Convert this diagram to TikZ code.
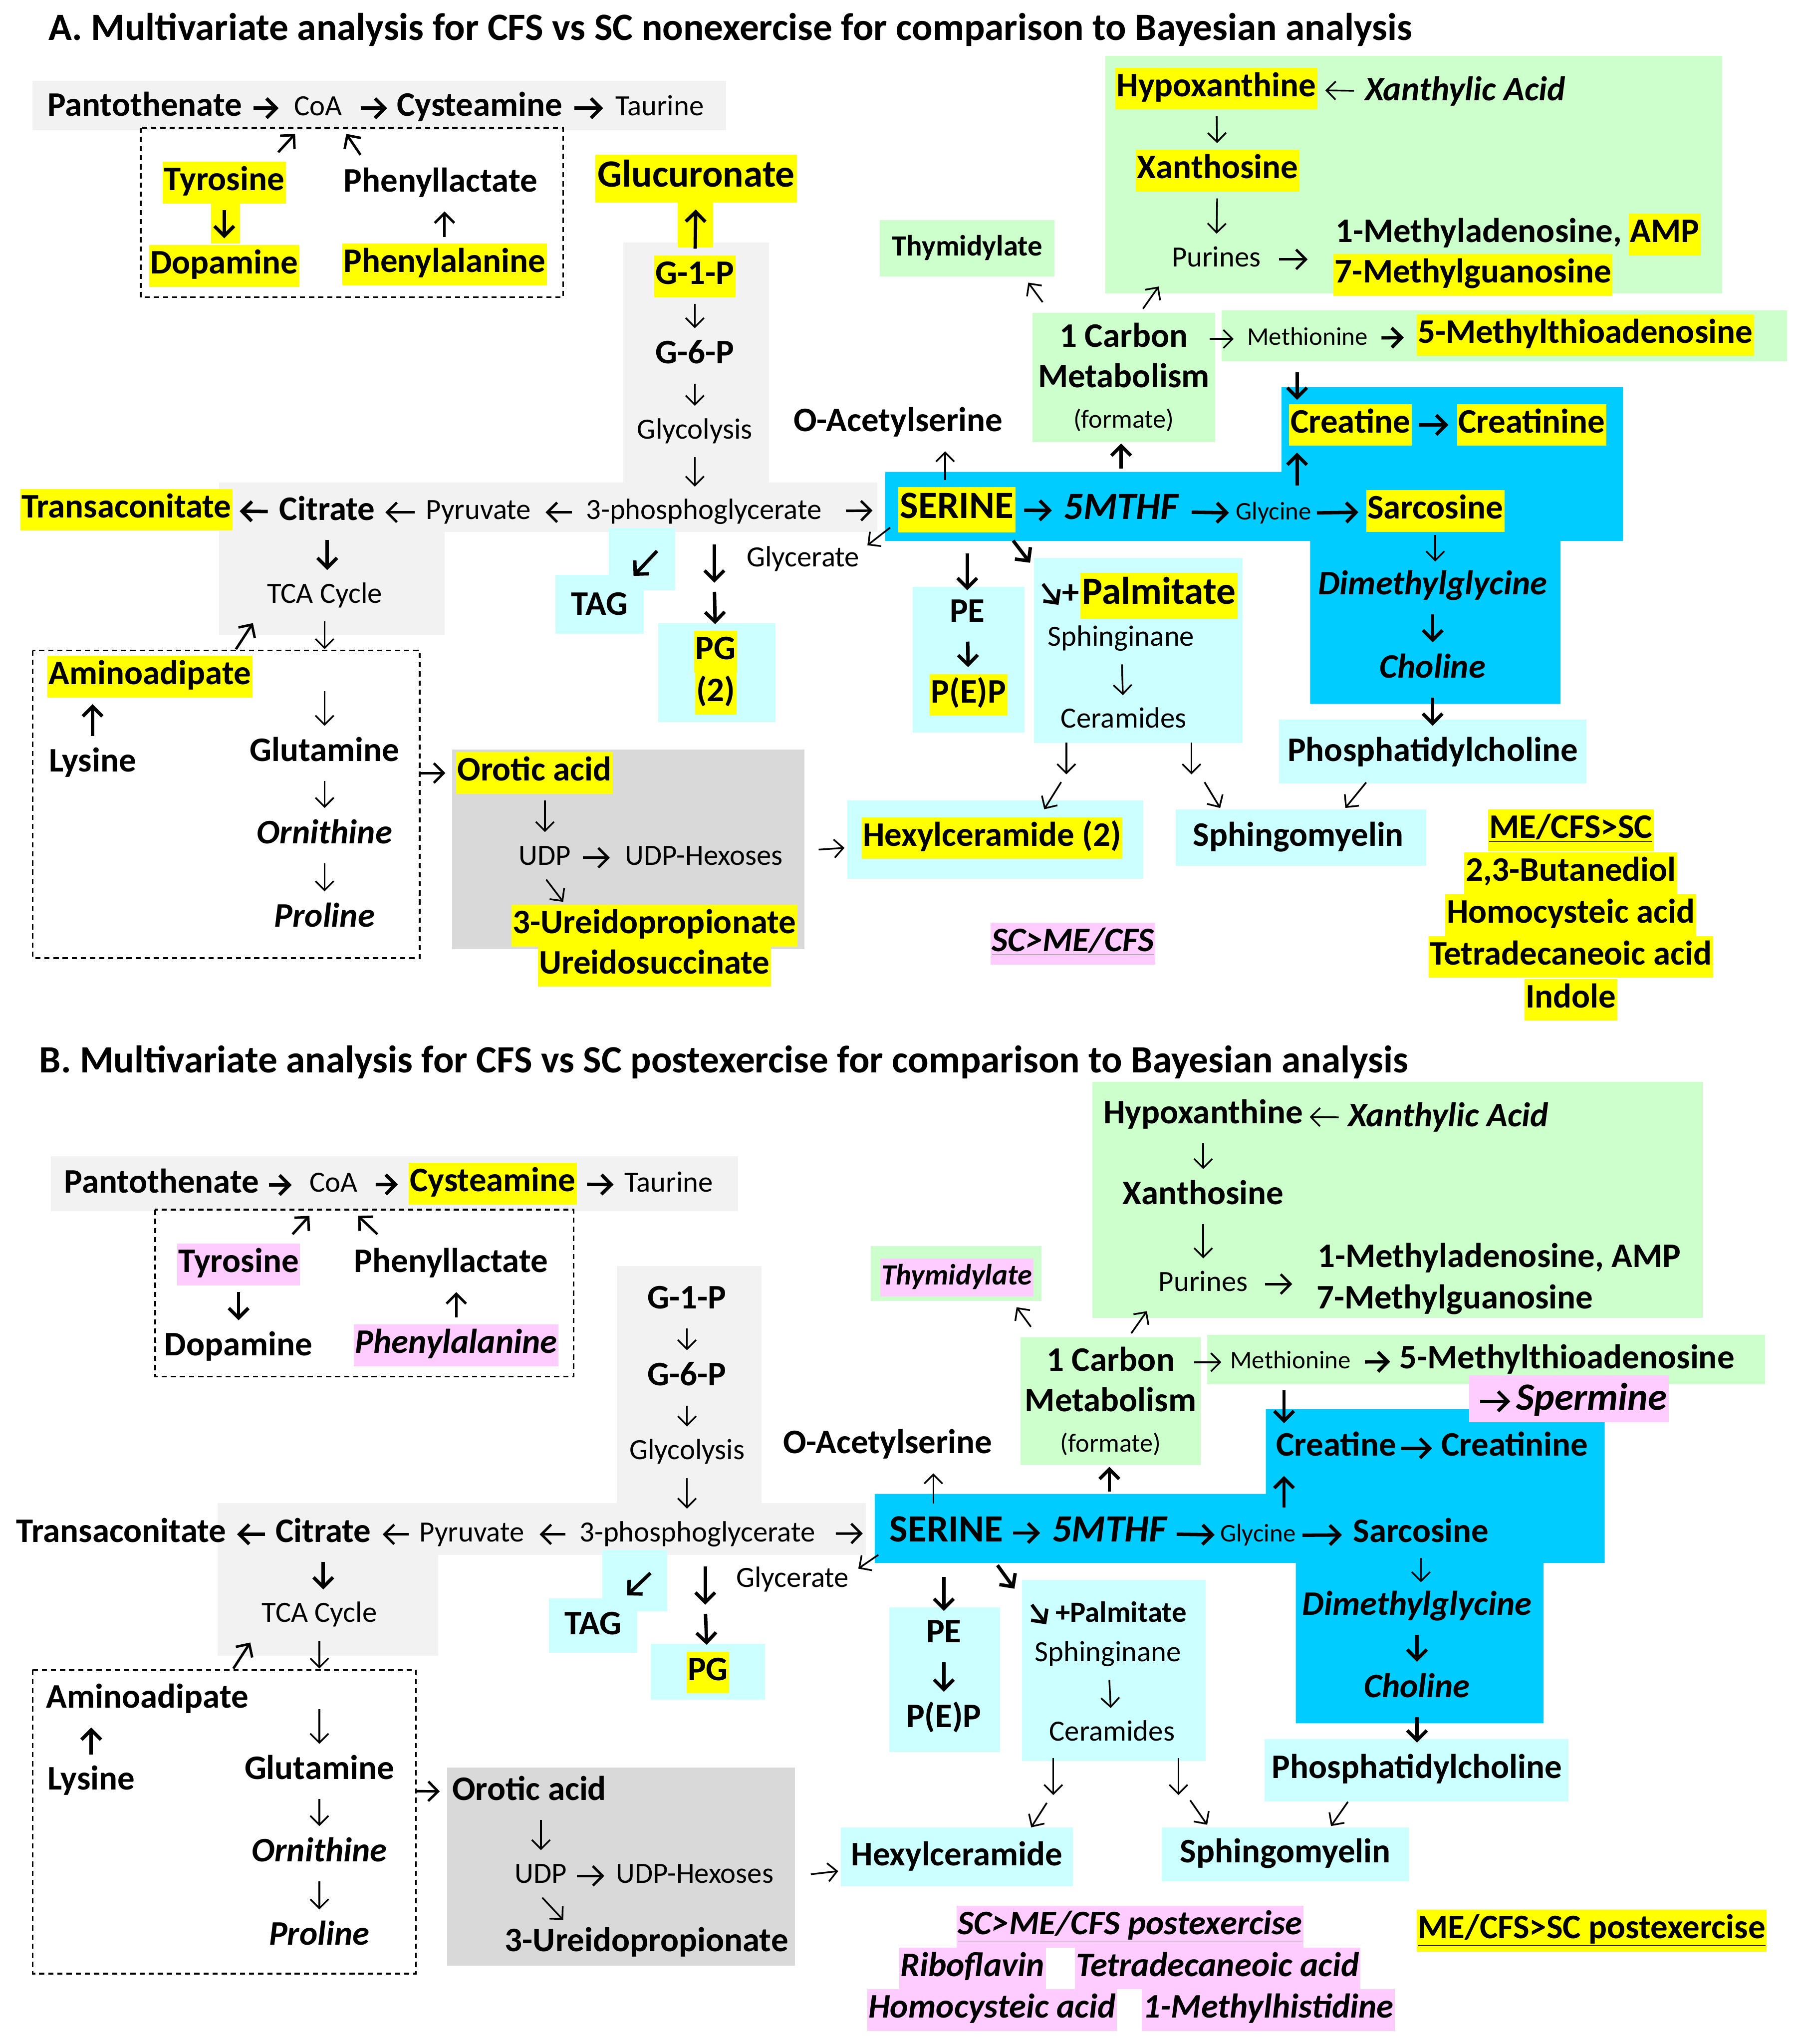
\documentclass[tikz,border=0pt]{standalone}
\usepackage{fontspec}
\setmainfont{Carlito}
\usetikzlibrary{arrows.meta,calc}

\definecolor{hiyel}{HTML}{FFFF00}
\definecolor{hipink}{HTML}{FFCCFF}
\definecolor{boxcyan}{HTML}{CCFFFF}
\definecolor{boxgreen}{HTML}{CCFFCC}
\definecolor{boxblue}{HTML}{00CCFF}
\definecolor{boxgray}{HTML}{F2F2F2}
\definecolor{boxgrayd}{HTML}{D9D9D9}

\tikzset{
  lb/.style={font=\bfseries\fontsize{26.4}{30}\selectfont, text height=18pt, text depth=6pt, inner xsep=1pt, inner ysep=4pt},
  lbi/.style={lb, font=\bfseries\itshape\fontsize{26.4}{30}\selectfont},
  lbs/.style={lb, font=\bfseries\fontsize{22.5}{27}\selectfont, text height=16pt, text depth=5pt},
  lbsi/.style={lbs, font=\bfseries\itshape\fontsize{22.5}{27}\selectfont},
  big/.style={font=\bfseries\fontsize{29.6}{34}\selectfont, text height=20pt, text depth=7pt, inner xsep=1.5pt, inner ysep=4pt},
  bigi/.style={big, font=\bfseries\itshape\fontsize{29.6}{34}\selectfont},
  lr/.style={font=\fontsize{22.5}{27}\selectfont, text height=16pt, text depth=5pt, inner xsep=1pt, inner ysep=4pt},
  ls/.style={font=\fontsize{19.5}{24}\selectfont, text height=14pt, text depth=4.5pt, inner xsep=1pt, inner ysep=4pt},
  hy/.style={fill=hiyel},
  hp/.style={fill=hipink},
  ttl/.style={font=\bfseries\fontsize{29.6}{34}\selectfont, anchor=base west, inner sep=0pt},
  cbox/.style={fill=boxgreen, align=center, inner sep=0pt, font=\bfseries\fontsize{26.4}{31}\selectfont},
  rxn/.style={-{Straight Barb[length=7pt,width=14pt]}, line width=1.3pt, shorten <=5pt, shorten >=5pt},
  rxnm/.style={rxn, -{Straight Barb[length=7.5pt,width=15pt]}, line width=1.9pt},
  rxnb/.style={rxn, -{Straight Barb[length=7.5pt,width=15pt]}, line width=2.6pt},
  rxd/.style={shorten <=0pt, shorten >=0pt},
  sh/.style 2 args={shorten <=#1pt, shorten >=#2pt},
  dashbox/.style={line width=1.3pt, dash pattern=on 4pt off 3pt}
}

\begin{document}
\begin{tikzpicture}[x=1pt,y=-1pt]
\useasboundingbox (0,0) rectangle (1382,1568);

%%%%%%%%%%%%%%%% Panel A
\node[ttl] (aTitle) at (37,31) {A. Multivariate analysis for CFS vs SC nonexercise for comparison to Bayesian analysis};

% shaded areas
\fill[boxgray] (25,62) rectangle (557,100);
\fill[boxgray] (478,186) rectangle (590,372);
\fill[boxgray] (168,370) rectangle (673,408);
\fill[boxgray] (168,370) rectangle (341,487);
\fill[boxgrayd] (347,575) rectangle (617,728);
\fill[boxcyan] (467,405) rectangle (518,453);
\fill[boxcyan] (426,441) rectangle (494,486);
\fill[boxcyan] (505,478) rectangle (595,554);
\fill[boxcyan] (700,450) rectangle (786,562);
\fill[boxcyan] (793,428) rectangle (953,570);
\fill[boxcyan] (981,552) rectangle (1217,601);
\fill[boxcyan] (902,621) rectangle (1094,664);
\fill[boxcyan] (650,614) rectangle (877,674);
\fill[boxgreen] (848,43) rectangle (1321,225);
\fill[boxgreen] (937,238) rectangle (1371,277);
\fill[boxblue] (679,362) -- (983,362) -- (983,297) -- (1245,297) -- (1245,415) -- (1197,415)
  -- (1197,540) -- (1005,540) -- (1005,415) -- (679,415) -- cycle;
\fill[hiyel] (162,156) rectangle (184,187);
\fill[hiyel] (520,155) rectangle (547,190);
\draw[dashbox] (108,98) rectangle (432,228);
\draw[dashbox] (25,499) rectangle (322,735);

% top strip
\node[lb] (aPant) at (111,83) {Pantothenate};
\node[lr] (aCoA) at (244,83) {CoA};
\node[lb] (aCys) at (368,83) {Cysteamine};
\node[lr] (aTau) at (506,83) {Taurine};
\node[lb,hy] (aTyr) at (172,140) {Tyrosine};
\node[lb,hy] (aDop) at (172,204) {Dopamine};
\node[lb] (aPhl) at (338,141) {Phenyllactate};
\node[lb,hy] (aPha) at (341,203) {Phenylalanine};

% glycolysis
\node[big,hy,inner ysep=5pt] (aGlu) at (534,137) {Glucuronate};
\node[lb,hy] (aG1P) at (533,212) {G-1-P};
\node[lb] (aG6P) at (533,273) {G-6-P};
\node[lr] (aGly) at (533,331) {Glycolysis};
\node[lr] (aPgl) at (540,393) {3-phosphoglycerate};
\node[lb,hy] (aTra) at (97,391) {Transaconitate};
\node[lb] (aCit) at (251,393) {Citrate};
\node[lr] (aPyr) at (367,393) {Pyruvate};
\node[lr] (aTCA) at (249,457) {TCA Cycle};
\node[lb] (aTAG) at (460,466) {TAG};
\node[lb,hy] (aPG) at (549,500) {PG};
\node[lb,hy] (aPG2) at (549,532) {(2)};
\node[lr] (aGlc) at (616,429) {Glycerate};

% amino acids, pyrimidines
\node[lb,hy] (aAmi) at (115,519) {Aminoadipate};
\node[lb] (aLys) at (71,586) {Lysine};
\node[lb] (aGlt) at (249,578) {Glutamine};
\node[lbi] (aOrn) at (249,641) {Ornithine};
\node[lbi] (aPro) at (249,705) {Proline};
\node[lb,hy] (aOro) at (410,593) {Orotic acid};
\node[lr] (aUDP) at (418,658) {UDP};
\node[lr] (aUDPH) at (540,658) {UDP-Hexoses};
\node[lb,hy] (aUre) at (502,710) {3-Ureidopropionate};
\node[lb,hy] (aUrs) at (502,741) {Ureidosuccinate};

% serine block
\node[big,hy] (aSer) at (734,391) {SERINE};
\node[bigi] (aMTHF) at (860,392) {5MTHF};
\node[ls] (aGlyn) at (977,394) {Glycine};
\node[lb,hy] (aSar) at (1101,392) {Sarcosine};
\node[lb,hy] (aCre) at (1036,326) {Creatine};
\node[lb,hy] (aCrn) at (1175,326) {Creatinine};
\node[lbi] (aDmg) at (1099,450) {Dimethylglycine};
\node[lbi] (aCho) at (1099,514) {Choline};
\node[lb] (aPC) at (1099,578) {Phosphatidylcholine};
\node[lb] (aSM) at (996,643) {Sphingomyelin};
\node[lb,hy] (aHex) at (761,643) {Hexylceramide (2)};
\node[lb] (aPE) at (742,471) {PE};
\node[lb,hy] (aPEP) at (743,533) {P(E)P};
\node[big,hy] (aPal) at (889,457) {Palmitate};
\node[lb,anchor=east,inner xsep=0.5pt] (aPlus) at (aPal.west) {+};
\node[lr] (aSph) at (860,490) {Sphinginane};
\node[lr] (aCer) at (862,553) {Ceramides};
\node[lb] (aOAc) at (689,325) {O-Acetylserine};
\node[cbox, minimum width=140pt, minimum height=99pt] (a1C) at (862,289.5)
  {1 Carbon\\Metabolism\\{\mdseries\fontsize{20}{24}\selectfont (formate)}};
\node[lbs,fill=boxgreen,minimum width=134pt,minimum height=43pt] (aThy) at (742,190.5) {Thymidylate};
\node[ls] (aMet) at (1003,260) {Methionine};
\node[lb,hy] (aMTA) at (1216,257) {5-Methylthioadenosine};

% purines
\node[lb,hy] (aHyp) at (933,68) {Hypoxanthine};
\node[lbi] (aXA) at (1124,71) {Xanthylic Acid};
\node[lb,hy] (aXan) at (934,131) {Xanthosine};
\node[lr] (aPur) at (933,199) {Purines};
\node[lb,hy] (aAMP) at (1277,180) {AMP};
\node[lb,anchor=east,inner xsep=5pt] (aM1) at (aAMP.west) {1-Methyladenosine,};
\node[lb,hy] (aM7) at (1130,211) {7-Methylguanosine};

% lists
\node[lb,hy] (aUp) at (1205,637) {\underline{ME/CFS>SC}};
\node[lb,hy] (aL1) at (1205,670) {2,3-Butanediol};
\node[lb,hy] (aL2) at (1205,702) {Homocysteic acid};
\node[lb,hy] (aL3) at (1205,734) {Tetradecaneoic acid};
\node[lb,hy] (aL4) at (1205,767) {Indole};
\node[lbi,hp] (aDown) at (823,724) {\underline{SC>ME/CFS}};

% connectors A
\draw[rxnb,sh={7.6}{10.6}] (aPant) -- (aCoA);
\draw[rxnb,sh={13}{6.3}] (aCoA) -- (aCys);
\draw[rxnb,sh={8}{8.2}] (aCys) -- (aTau);
\draw[rxnm,rxd] ([shift={(-6,-7)}]aTyr.north east) -- ([shift={(2,5)}]aCoA.south west);
\draw[rxnm,rxd] ([shift={(14,-6)}]aPhl.north west) -- ([shift={(2,5)}]aCoA.south east);
\draw[rxnb] (aTyr) -- (aDop);
\draw[rxnm] (aPha) -- (aPha |- aPhl.south);
\draw[rxnb] (aG1P) -- (aGlu);
\draw[rxn] (aG1P) -- (aG6P);
\draw[rxn] (aG6P) -- (aGly);
\draw[rxn] (aGly) -- (aGly |- aPgl.north);
\draw[rxnb,sh={7.7}{5.2}] (aCit) -- (aTra);
\draw[rxnm,sh={7.4}{6.8}] (aPyr) -- (aCit);
\draw[rxnm,sh={9.5}{10.1}] (aPgl) -- (aPyr);
\draw[rxnm,sh={17.3}{19.5}] (aPgl) -- (aSer);
\draw[rxnb] (aCit) -- (aCit |- aTCA.north);
\coordinate (aBoxN) at (249,499);
\coordinate (aGltIn) at (249,530);
\coordinate (aBoxE) at (322,593);
\draw[rxn,shorten >=1pt] (aTCA) -- (aBoxN);
\draw[rxn,shorten <=0pt] (aGltIn) -- (aGlt);
\draw[rxnm,rxd] ([shift={(-68,-1)}]aBoxN) -- ++(13,-20);
\draw[rxnb] (aLys) -- (aLys |- aAmi.south);
\draw[rxn] (aGlt) -- (aOrn);
\draw[rxn] (aOrn) -- (aPro);
\draw[rxnm,sh={0}{8}] (aBoxE) -- (aOro);
\draw[rxn] (aUDP |- aOro.south) -- (aUDP);
\draw[rxnm,sh={8}{10.6}] (aUDP) -- (aUDPH);
\draw[rxn,rxd] ([shift={(1,2)}]aUDP.south) -- ([shift={(-70,-2)}]aUre.north);
\coordinate (aUDPE) at (624,652);
\draw[rxn,sh={4}{13}] (aUDPE) -- (aHex);
\draw[rxnb,rxd] ([shift={(-36,15)}]aPgl.south) -- ([shift={(26,-8)}]aTAG.north);
\coordinate (aPGmid) at (548,449);
\draw[rxnb,sh={10}{2}] (aPgl.south -| aPGmid) -- (aPGmid);
\draw[rxnb,sh={5}{5}] (aPGmid) -- (aPG);
\draw[rxn,rxd] ([shift={(-6,-4)}]aSer.south west) -- ([shift={(5,4)}]aGlc.north east);
\draw[rxnb,sh={16}{2}] (aPE |- aSer.south) -- (aPE);
\draw[rxnb,rxd] ([shift={(-2,6)}]aSer.south east) -- ++(13,17);
\draw[rxnb] (aPE) -- (aPEP);
\draw[rxnb,rxd] ([shift={(-14,-9)}]aPlus.west) -- ++(12,16);
\draw[rxn] (aSph) -- (aCer);
\coordinate (aCerL) at (818,596);
\coordinate (aCerR) at (914,596);
\draw[rxn,sh={2}{2}] (aCer.south -| aCerL) -- (aCerL);
\draw[rxn,sh={2}{2}] (aCer.south -| aCerR) -- (aCerR);
\draw[rxn,rxd] ([shift={(-4,4)}]aCerL) -- ([shift={(40,-6)}]aHex.north);
\draw[rxn,rxd] ([shift={(10,4)}]aCerR) -- ([shift={(-60,-7)}]aSM.north);
\draw[rxn,rxd] ([shift={(-51,6)}]aPC.south) -- ([shift={(36,-7)}]aSM.north);
\draw[rxn] ([xshift=-9pt]aSer.north) -- ([xshift=-9pt]aSer.north |- aOAc.south);
\draw[rxnb,sh={15}{1}] (aMTHF) -- (aMTHF |- a1C.south);
\draw[rxnb,sh={6.5}{7.5}] (aSer) -- (aMTHF);
\draw[rxnb,sh={8.5}{4}] (aMTHF) -- (aGlyn);
\draw[rxnb,sh={3}{5.7}] (aGlyn) -- (aSar);
\draw[rxnb,sh={5.2}{6.4}] (aCre) -- (aCrn);
\coordinate (aCX) at (995,300);
\draw[rxnb,sh={8}{5}] (aGlyn.north -| aCX) -- (aCre.south -| aCX);
\draw[rxnb,sh={12}{3}] (aMet.south -| aCX) -- (aCre.north -| aCX);
\draw[rxn,sh={2}{3}] (aSar) -- (aSar |- aDmg.north);
\draw[rxnb] (aDmg) -- (aCho);
\draw[rxnb] (aCho) -- (aPC);
\draw[rxn,rxd] ([shift={(8,-8)}]a1C.north west) -- ++(-11,-15);
\draw[rxn,rxd] ([shift={(85,-3)}]a1C.north west) -- ++(12,-17);
\draw[rxn,sh={-4.4}{9.2}] (a1C.east |- aMet) -- (aMet);
\draw[rxnb,sh={9.3}{9.5}] (aMet) -- (aMTA);
\draw[rxn,sh={7.2}{6}] (aXA) -- (aHyp);
\draw[rxn] (aHyp) -- (aXan);
\draw[rxn] (aXan) -- (aPur);
\draw[rxnm,sh={12.7}{19.7}] (aPur) -- (aPur -| aM7.west);

%%%%%%%%%%%%%%%% Panel B
\node[ttl] (bTitle) at (30,823) {B. Multivariate analysis for CFS vs SC postexercise for comparison to Bayesian analysis};

% shaded areas
\fill[boxgray] (39,887) rectangle (566,929);
\fill[boxgray] (473,971) rectangle (584,1156);
\fill[boxgray] (167,1153) rectangle (664,1193);
\fill[boxgray] (167,1153) rectangle (336,1270);
\fill[boxgrayd] (343,1356) rectangle (610,1508);
\fill[boxcyan] (462,1189) rectangle (512,1236);
\fill[boxcyan] (421,1226) rectangle (489,1268);
\fill[boxcyan] (499,1261) rectangle (587,1304);
\fill[boxcyan] (682,1233) rectangle (767,1344);
\fill[boxcyan] (784,1212) rectangle (925,1351);
\fill[boxcyan] (970,1334) rectangle (1203,1382);
\fill[boxcyan] (645,1402) rectangle (823,1447);
\fill[boxcyan] (891,1402) rectangle (1081,1443);
\fill[boxgreen] (838,830) rectangle (1306,1011);
\fill[boxgreen] (926,1024) rectangle (1354,1062);
\fill[boxgreen] (668,956) rectangle (799,998);
\fill[boxblue] (671,1146) -- (971,1146) -- (971,1081) -- (1231,1081) -- (1231,1199) -- (1184,1199)
  -- (1184,1322) -- (994,1322) -- (994,1199) -- (671,1199) -- cycle;
\fill[hipink] (1127,1055) rectangle (1280,1091);
\draw[dashbox] (119,928) rectangle (440,1056);
\draw[dashbox] (25,1281) rectangle (319,1514);

% top strip
\node[lb] (bPant) at (124,909) {Pantothenate};
\node[lr] (bCoA) at (256,909) {CoA};
\node[lb,hy] (bCys) at (378,908) {Cysteamine};
\node[lr] (bTau) at (513,909) {Taurine};
\node[lb,hp] (bTyr) at (183,970) {Tyrosine};
\node[lb] (bDop) at (183,1034) {Dopamine};
\node[lb] (bPhl) at (346,970) {Phenyllactate};
\node[lbi,hp] (bPha) at (350,1032) {Phenylalanine};

% glycolysis
\node[lb] (bG1P) at (527,998) {G-1-P};
\node[lb] (bG6P) at (527,1057) {G-6-P};
\node[lr] (bGly) at (527,1114) {Glycolysis};
\node[lr] (bPgl) at (535,1177) {3-phosphoglycerate};
\node[lb] (bTra) at (93,1177) {Transaconitate};
\node[lb] (bCit) at (248,1177) {Citrate};
\node[lr] (bPyr) at (362,1177) {Pyruvate};
\node[lr] (bTCA) at (245,1239) {TCA Cycle};
\node[lb] (bTAG) at (455,1248) {TAG};
\node[lb,hy] (bPG) at (543,1283) {PG};
\node[lr] (bGlc) at (608,1212) {Glycerate};

% amino acids, pyrimidines
\node[lb] (bAmi) at (113,1304) {Aminoadipate};
\node[lb] (bLys) at (70,1367) {Lysine};
\node[lb] (bGlt) at (245,1359) {Glutamine};
\node[lbi] (bOrn) at (245,1422) {Ornithine};
\node[lbi] (bPro) at (245,1486) {Proline};
\node[lb] (bOro) at (406,1375) {Orotic acid};
\node[lr] (bUDP) at (415,1439) {UDP};
\node[lr] (bUDPH) at (533,1439) {UDP-Hexoses};
\node[lb] (bUre) at (496,1491) {3-Ureidopropionate};

% serine block
\node[big] (bSer) at (726,1176) {SERINE};
\node[bigi] (bMTHF) at (851,1176) {5MTHF};
\node[ls] (bGlyn) at (965,1178) {Glycine};
\node[lb] (bSar) at (1090,1177) {Sarcosine};
\node[lb] (bCre) at (1025,1111) {Creatine};
\node[lb] (bCrn) at (1162,1111) {Creatinine};
\node[lbi] (bDmg) at (1087,1233) {Dimethylglycine};
\node[lbi] (bCho) at (1087,1296) {Choline};
\node[lb] (bPC) at (1087,1358) {Phosphatidylcholine};
\node[lb] (bSM) at (986,1423) {Sphingomyelin};
\node[lb] (bHex) at (734,1425) {Hexylceramide};
\node[lb] (bPE) at (724,1254) {PE};
\node[lb] (bPEP) at (724,1319) {P(E)P};
\node[lbs] (bPal) at (860,1239) {+Palmitate};
\node[lr] (bSph) at (850,1269) {Sphinginane};
\node[lr] (bCer) at (853,1330) {Ceramides};
\node[lb] (bOAc) at (681,1109) {O-Acetylserine};
\node[cbox, minimum width=138pt, minimum height=98pt] (b1C) at (852,1075)
  {1 Carbon\\Metabolism\\{\mdseries\fontsize{20}{24}\selectfont (formate)}};
\node[lbsi,hp] (bThy) at (734,980) {Thymidylate};
\node[ls] (bMet) at (990,1045) {Methionine};
\node[lb] (bMTA) at (1202,1044) {5-Methylthioadenosine};
\node[bigi] (bSpm) at (1221,1075) {Spermine};

% purines
\node[lb] (bHyp) at (923,856) {Hypoxanthine};
\node[lbi] (bXA) at (1111,858) {Xanthylic Acid};
\node[lb] (bXan) at (923,918) {Xanthosine};
\node[lr] (bPur) at (923,985) {Purines};
\node[lb] (bM1) at (1150,966) {1-Methyladenosine, AMP};
\node[lb] (bM7) at (1116,998) {7-Methylguanosine};

% lists
\node[lbi,hp] (bDown) at (867,1478) {\underline{SC>ME/CFS postexercise}};
\node[lbi,hp] (bRib) at (746,1510) {Riboflavin};
\node[lbi,hp] (bTet) at (934,1510) {Tetradecaneoic acid};
\node[lbi,hp] (bHom) at (761,1542) {Homocysteic acid};
\node[lbi,hp] (bMeh) at (973,1542) {1-Methylhistidine};
\node[lb,hy] (bUp) at (1221,1481) {\underline{ME/CFS>SC postexercise}};

% connectors B
\draw[rxnb,sh={6.5}{12.6}] (bPant) -- (bCoA);
\draw[rxnb,sh={12.6}{8}] (bCoA) -- (bCys);
\draw[rxnb,sh={7.6}{7.2}] (bCys) -- (bTau);
\draw[rxnm,rxd] ([shift={(-6,-7)}]bTyr.north east) -- ([shift={(1,9)}]bCoA.south west);
\draw[rxnm,rxd] ([shift={(19,-7)}]bPhl.north west) -- ([shift={(-1,9)}]bCoA.south east);
\draw[rxnb] (bTyr) -- (bDop);
\draw[rxnm] (bPha) -- (bPha |- bPhl.south);
\draw[rxn] (bG1P) -- (bG6P);
\draw[rxn] (bG6P) -- (bGly);
\draw[rxn] (bGly) -- (bGly |- bPgl.north);
\draw[rxnb,sh={6.7}{7.2}] (bCit) -- (bTra);
\draw[rxnm,sh={7}{7.7}] (bPyr) -- (bCit);
\draw[rxnm,sh={9.5}{10.5}] (bPgl) -- (bPyr);
\draw[rxnm,sh={14.5}{19}] (bPgl) -- (bSer);
\draw[rxnb] (bCit) -- (bCit |- bTCA.north);
\coordinate (bBoxN) at (245,1281);
\coordinate (bGltIn) at (245,1311);
\coordinate (bBoxE) at (319,1374);
\draw[rxn,shorten >=1pt] (bTCA) -- (bBoxN);
\draw[rxn,shorten <=0pt] (bGltIn) -- (bGlt);
\draw[rxnm,rxd] ([shift={(-66,-1)}]bBoxN) -- ++(13,-20);
\draw[rxnb] (bLys) -- (bLys |- bAmi.south);
\draw[rxn] (bGlt) -- (bOrn);
\draw[rxn] (bOrn) -- (bPro);
\draw[rxnm,sh={0}{8.3}] (bBoxE) -- (bOro);
\draw[rxn] (bUDP |- bOro.south) -- (bUDP);
\draw[rxnm,sh={6.3}{7.8}] (bUDP) -- (bUDPH);
\draw[rxn,rxd] ([shift={(1,2)}]bUDP.south) -- ([shift={(-64,-2)}]bUre.north);
\coordinate (bUDPE) at (620,1438);
\draw[rxn,sh={2}{8.7}] (bUDPE) -- (bHex);
\draw[rxnb,rxd] ([shift={(-36,15)}]bPgl.south) -- ([shift={(26,-8)}]bTAG.north);
\coordinate (bPGmid) at (541,1233);
\draw[rxnb,sh={10}{2}] (bPgl.south -| bPGmid) -- (bPGmid);
\draw[rxnb,sh={5}{5}] (bPGmid) -- (bPG);
\draw[rxn,rxd] ([shift={(-7,-1)}]bSer.south west) -- ([shift={(6,6)}]bGlc.north east);
\draw[rxnb,sh={16}{2}] (bPE |- bSer.south) -- (bPE);
\draw[rxnb,rxd] ([shift={(-6,7)}]bSer.south east) -- ++(13,18);
\draw[rxnb] (bPE) -- (bPEP);
\draw[rxnb,rxd] ([shift={(-17,-8)}]bPal.west) -- ++(11,15);
\draw[rxn] (bSph) -- (bCer);
\coordinate (bCerL) at (808,1378);
\coordinate (bCerR) at (904,1378);
\draw[rxn,sh={4}{1}] (bCer.south -| bCerL) -- (bCerL);
\draw[rxn,sh={4}{1}] (bCer.south -| bCerR) -- (bCerR);
\draw[rxn,rxd] ([shift={(-5,5)}]bCerL) -- ([shift={(57,-7)}]bHex.north);
\draw[rxn,rxd] ([shift={(9,3)}]bCerR) -- ([shift={(-60,-7)}]bSM.north);
\draw[rxn,rxd] ([shift={(-53,8)}]bPC.south) -- ([shift={(35,-6)}]bSM.north);
\draw[rxn] ([xshift=-10pt]bSer.north) -- ([xshift=-10pt]bSer.north |- bOAc.south);
\draw[rxnb,sh={14}{1}] (bMTHF) -- (bMTHF |- b1C.south);
\draw[rxnb,sh={6}{7.5}] (bSer) -- (bMTHF);
\draw[rxnb,sh={6}{3}] (bMTHF) -- (bGlyn);
\draw[rxnb,sh={4}{7.3}] (bGlyn) -- (bSar);
\draw[rxnb,sh={2.6}{5.8}] (bCre) -- (bCrn);
\coordinate (bCX) at (985,1100);
\draw[rxnb,sh={8}{5}] (bGlyn.north -| bCX) -- (bCre.south -| bCX);
\draw[rxnb,sh={8}{3}] (bMet.south -| bCX) -- (bCre.north -| bCX);
\draw[rxn,sh={2}{3}] (bSar) -- (bSar |- bDmg.north);
\draw[rxnb] (bDmg) -- (bCho);
\draw[rxnb] (bCho) -- (bPC);
\draw[rxn,rxd] ([shift={(8,-8)}]b1C.north west) -- ++(-11,-15);
\draw[rxn,rxd] ([shift={(85,-3)}]b1C.north west) -- ++(12,-17);
\draw[rxn,sh={-5}{5.7}] (b1C.east |- bMet) -- (bMet);
\draw[rxnb,sh={9.6}{6}] (bMet) -- (bMTA);
\draw[rxnb,rxd,shorten >=3pt] ([xshift=-26pt]bSpm.west) -- (bSpm.west);
\draw[rxn,sh={6}{4}] (bXA) -- (bHyp);
\draw[rxn] (bHyp) -- (bXan);
\draw[rxn] (bXan) -- (bPur);
\draw[rxnm,sh={12}{17.5}] (bPur) -- (bPur -| bM7.west);
\end{tikzpicture}
\end{document}
